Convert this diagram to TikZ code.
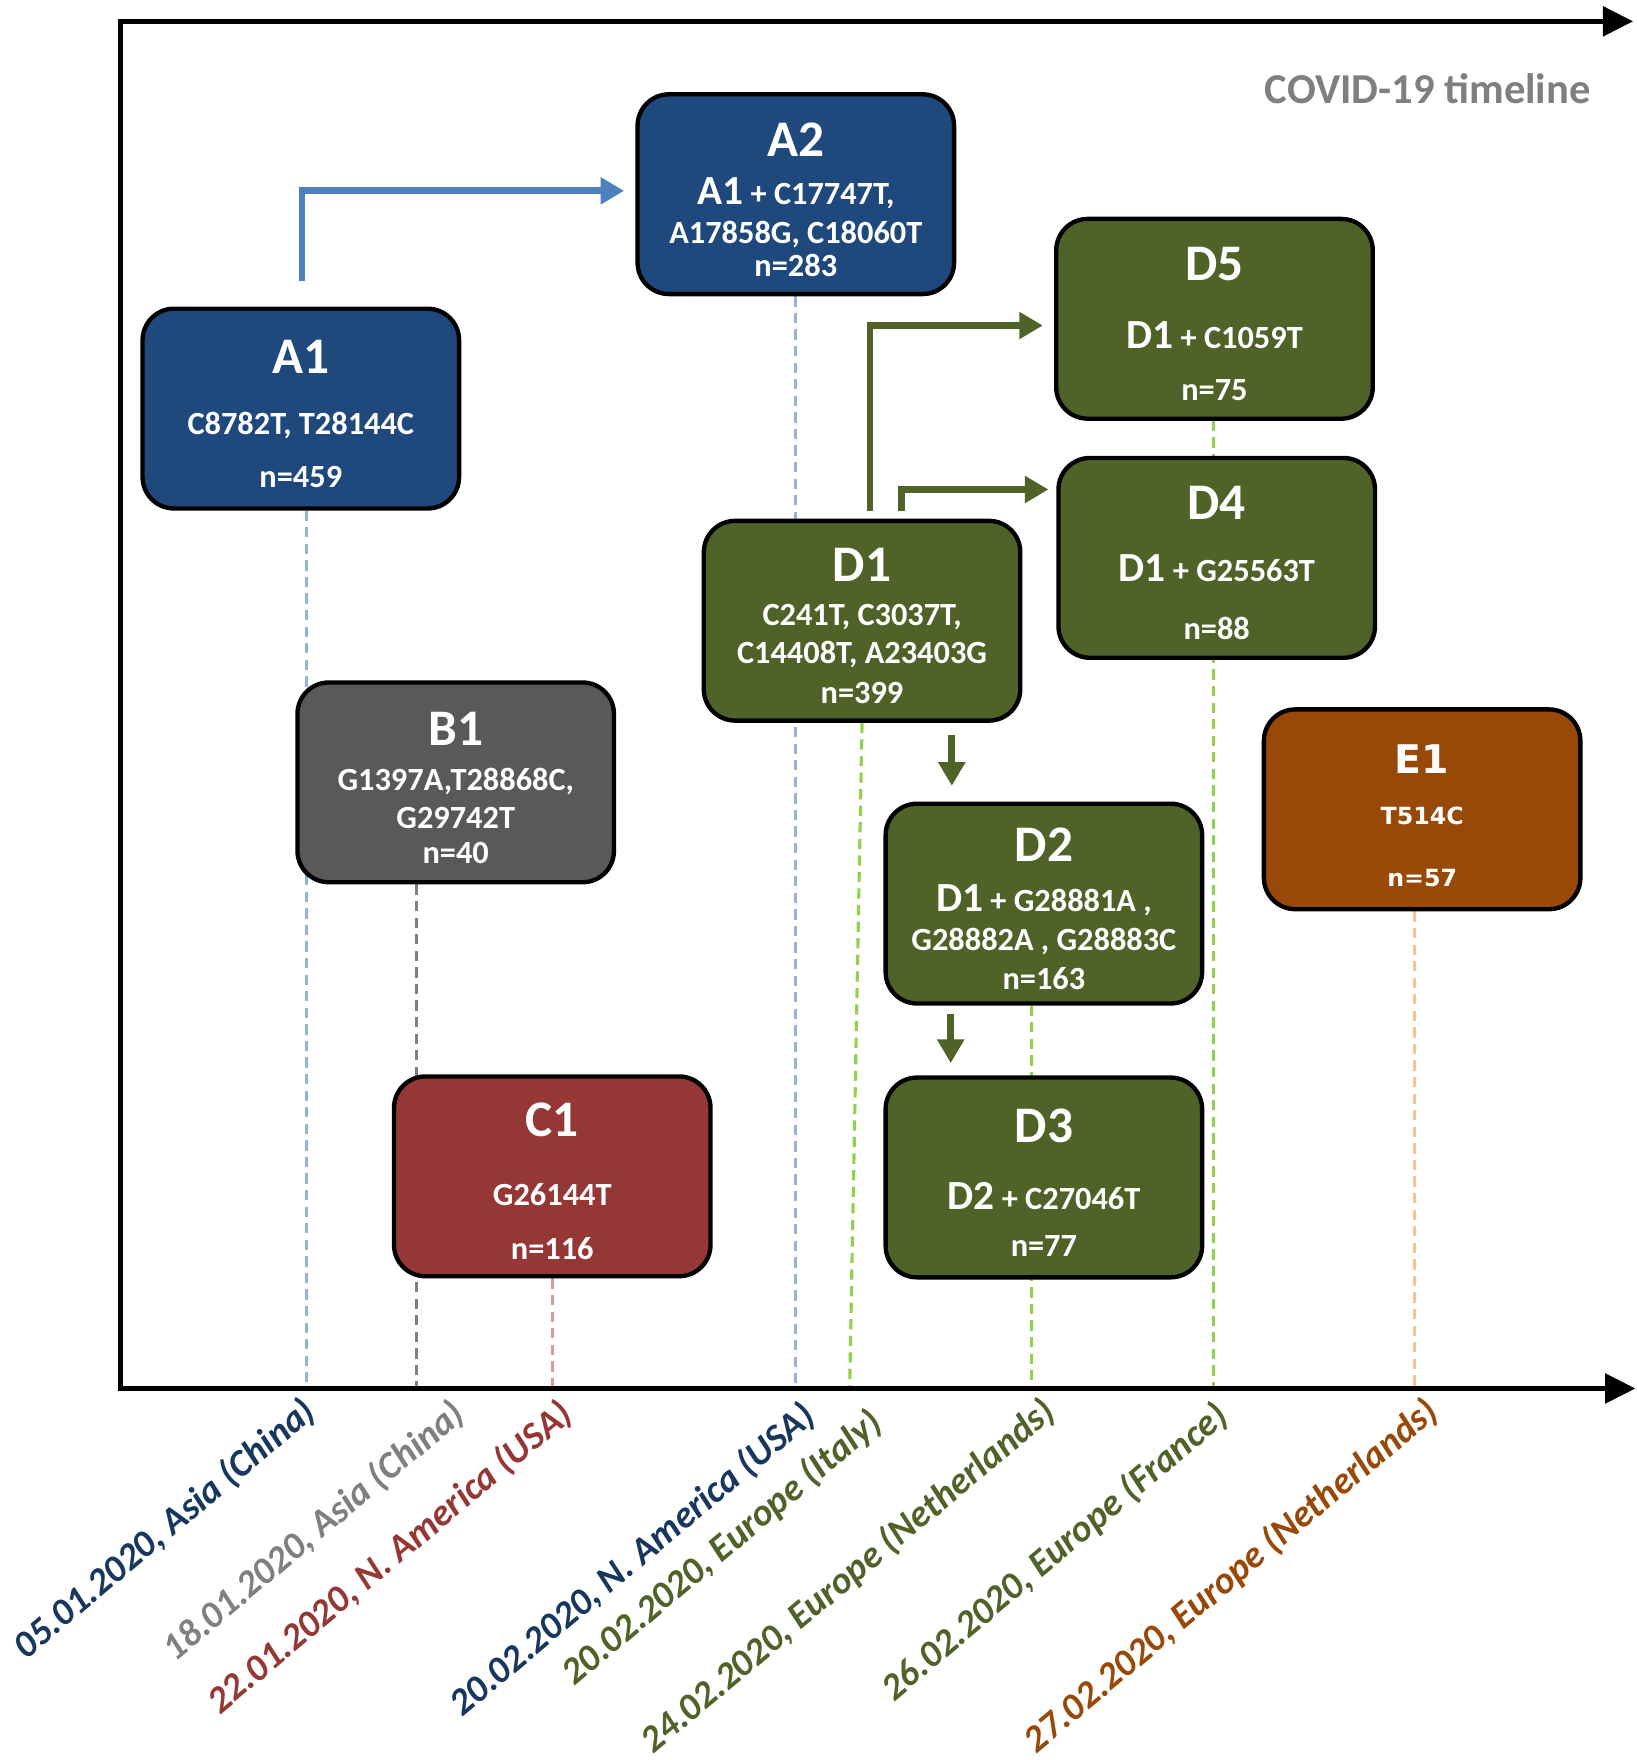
\documentclass[tikz,border=0pt]{standalone}
\usepackage{fontspec}
\setmainfont{Carlito}
\newfontfamily\verdfont{DejaVu Sans}
\usetikzlibrary{arrows.meta, positioning, calc, backgrounds}
\definecolor{cnavy}{HTML}{1F497D}
\definecolor{cgreen}{HTML}{4F6228}
\definecolor{cgrey}{HTML}{595959}
\definecolor{cred}{HTML}{953735}
\definecolor{corange}{HTML}{984807}
\definecolor{carrow}{HTML}{4F81BD}
\definecolor{lblue}{HTML}{95B3D7}
\definecolor{lgrey}{HTML}{7F7F7F}
\definecolor{lred}{HTML}{DE9A98}
\definecolor{lgreen}{HTML}{92D050}
\definecolor{lorange}{HTML}{FAC090}
\definecolor{tnavy}{HTML}{17375E}

\newcommand{\cladetitle}[1]{{\fontsize{13}{13}\selectfont\rule{0pt}{11.2pt}#1}}
\newcommand{\parentclade}[1]{{\fontsize{10.5}{10.5}\selectfont #1}}

\begin{document}
\begin{tikzpicture}[
    x=0.1mm, y=-0.1mm,
    font=\bfseries\fontsize{8.2}{8.3}\selectfont,
    clade/.style={
        rectangle, rounded corners=2.8mm, draw=black, line width=1.1pt,
        minimum width=28.2mm, minimum height=17.8mm, align=center,
        text=white, inner sep=0pt
    },
    timeaxis/.style={
        line width=1.3pt, line join=miter,
        {Triangle[length=2.7mm, width=2.6mm]}-{Triangle[length=2.7mm, width=2.6mm]}
    },
    drop/.style={line width=0.8pt, dash pattern=on 2.6pt off 1.6pt},
    mutarrow/.style={-{Triangle[length=2.1mm, width=2.3mm]}, line width=1.7pt},
    datelbl/.style={
        rotate=40, anchor=north east, inner sep=0pt,
        font=\bfseries\itshape\fontsize{9.6}{9.6}\selectfont
    },
]
\useasboundingbox (0,0) rectangle (1458,1568);

% --- Axes --------------------------------------------------------------------
\coordinate (orig) at (107,1237);
\coordinate (ytop) at (107,19);
\coordinate (tend) at (1455,19);
\coordinate (xend) at (1457,1237);
\draw[timeaxis] (xend) -- (orig) -- (ytop) -- (tend);

\node[anchor=east, inner sep=0pt, text=lgrey,
      font=\bfseries\fontsize{10.8}{10.8}\selectfont]
    (ttl) at (1418,79) {COVID-19 timeline};

% --- Ticks on the time axis ---------------------------------------------------
\coordinate (t1) at ( 273,1235);
\coordinate (t2) at ( 371,1235);
\coordinate (t3) at ( 492,1235);
\coordinate (t4) at ( 709,1235);
\coordinate (t5) at ( 757,1235);
\coordinate (t6) at ( 919,1235);
\coordinate (t7) at (1081,1235);
\coordinate (t8) at (1260,1235);

% --- Clade A -----------------------------------------------------------------
\node[clade, fill=cnavy] (a1) at (268,364) {%
    \cladetitle{A1}\\[7.1pt]
    C8782T, T28144C\\[5.1pt]
    n=459
};
\node[clade, fill=cnavy] (a2) at (709,173) {%
    \cladetitle{A2}\\[3.9pt]
    \parentclade{A1} + C17747T,\\[1.7pt]
    A17858G, C18060T\\
    n=283
};

% --- Clades B and C -------------------------------------------------------------
\node[clade, fill=cgrey] (b1) at (406,697) {%
    \cladetitle{B1}\\[3.1pt]
    G1397A,T28868C,\\[1.4pt]
    G29742T\\[0.5pt]
    n=40
};
\node[clade, fill=cred] (c1) at (492,1048) {%
    \cladetitle{C1}\\[9pt]
    G26144T\\[5.6pt]
    n=116
};

% --- Clade D -----------------------------------------------------------------
\node[clade, fill=cgreen] (d1) at (768,553) {%
    \cladetitle{D1}\\[2.8pt]
    C241T, C3037T,\\[1.4pt]
    C14408T, A23403G\\[1.9pt]
    n=399
};
\node[clade, fill=cgreen] (d2) at (930,805) {%
    \cladetitle{D2}\\[4.5pt]
    \parentclade{D1} + G28881A ,\\[1.4pt]
    G28882A , G28883C\\[1.7pt]
    n=163
};
\node[clade, fill=cgreen] (d3) at (930,1049) {%
    \cladetitle{D3}\\[8.5pt]
    \parentclade{D2} + C27046T\\[3.6pt]
    n=77
};
\node[clade, fill=cgreen] (d4) at (1084,497) {%
    \cladetitle{D4}\\[7.3pt]
    \parentclade{D1} + G25563T\\[6.5pt]
    n=88
};
\node[clade, fill=cgreen] (d5) at (1082,284) {%
    \cladetitle{D5}\\[8.8pt]
    \parentclade{D1} + C1059T\\[5.1pt]
    n=75
};

% --- Clade E -----------------------------------------------------------------
\node[clade, fill=corange, font=\verdfont\bfseries\fontsize{6}{8.3}\selectfont]
    (e1) at (1267,721) {%
    {\fontsize{10}{10}\selectfont\rule{0pt}{10.6pt}E1}\\[4.8pt]
    T514C\\[7.4pt]
    n=57
};

% --- Drop lines to the axis (behind the boxes) ------------------------------
\begin{scope}[on background layer]
\draw[drop, lblue]   (a1.south -| t1) -- (t1);
\draw[drop, lgrey]   (b1.south -| t2) -- (t2);
\draw[drop, lred]    (c1.south -| t3) -- (t3);
\draw[drop, lblue]   (a2.south -| t4) -- (t4);
\draw[drop, lgreen]  (d1.south) -- (t5);
\draw[drop, lgreen]  (d2.south -| t6) -- (t6);
\draw[drop, lgreen]  (d5.south -| t7) -- (t7);
\draw[drop, lorange] (e1.south -| t8) -- (t8);
\end{scope}

% --- Descent arrows ----------------------------------------------------------
\draw[mutarrow, carrow] ([shift={(1,-23)}]a1.north) |- ([shift={(-10,-3)}]a2.west);
\draw[mutarrow, cgreen] ([shift={(7,-7)}]d1.north) |- ([shift={(-10,6)}]d5.west);
\draw[mutarrow, cgreen] ([shift={(35,-7)}]d1.north) |- ([shift={(-7,30)}]d4.north west);
\draw[mutarrow, cgreen] ([shift={(80,11)}]d1.south) -- ([shift={(-82,-14)}]d2.north);
\draw[mutarrow, cgreen] ([shift={(-83,7)}]d2.south) -- ([shift={(-83,-11)}]d3.north);

% --- Dates and places --------------------------------------------------------
\node[datelbl, text=tnavy]   (l1) at ([shift={(-6,6)}]t1) {05.01.2020, Asia (China)};
\node[datelbl, text=lgrey]   (l2) at ([shift={(29,8)}]t2) {18.01.2020, Asia (China)};
\node[datelbl, text=cred]    (l3) at ([shift={(4,8)}]t3)  {22.01.2020, N. America (USA)};
\node[datelbl, text=tnavy]   (l4) at ([shift={(3,10)}]t4) {20.02.2020, N. America (USA)};
\node[datelbl, text=cgreen]  (l5) at ([shift={(15,16)}]t5) {20.02.2020, Europe (Italy)};
\node[datelbl, text=cgreen]  (l6) at ([shift={(7,6)}]t6)  {24.02.2020, Europe (Netherlands)};
\node[datelbl, text=cgreen]  (l7) at ([shift={(-1,10)}]t7) {26.02.2020, Europe (France)};
\node[datelbl, text=corange] (l8) at ([shift={(7,6)}]t8)  {27.02.2020, Europe (Netherlands)};

\end{tikzpicture}
\end{document}
